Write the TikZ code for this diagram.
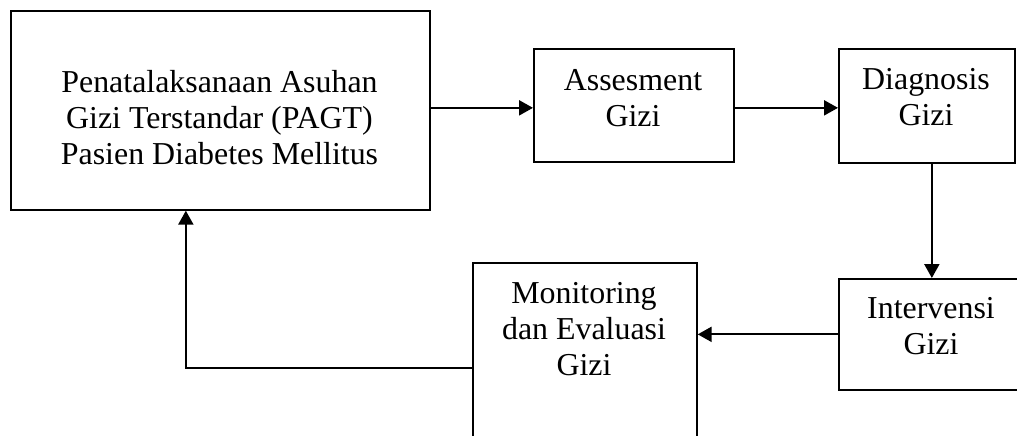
\documentclass[tikz,border=0pt]{standalone}
\usepackage{fontspec}
\setmainfont{Liberation Serif}
\usetikzlibrary{arrows.meta}

\tikzset{
  boxnode/.style={draw=black, line width=1.7pt, rectangle, inner sep=0pt, anchor=north west},
  lbl/.style={inner sep=0pt, align=center, anchor=base,
    font=\fontsize{31.9pt}{36pt}\selectfont},
  arr/.style={draw=black, line width=2.2pt,
    -{Triangle[length=14pt, width=15pt]}},
}

\begin{document}
\begin{tikzpicture}[x=1pt, y=-1pt]
\useasboundingbox (0,0) rectangle (1017,436);

% boxes
\node[boxnode, minimum width=419pt, minimum height=199pt] (b1) at (10,10) {};
\node[boxnode, minimum width=200pt, minimum height=113pt] (b2) at (533,48) {};
\node[boxnode, minimum width=176pt, minimum height=114pt] (b3) at (838,48) {};
\node[boxnode, minimum width=186pt, minimum height=111pt] (b4) at (838,278) {};
\node[boxnode, minimum width=224pt, minimum height=211pt] (b5) at (472,262) {};

% labels (anchored at the baseline of their last line)
\node[lbl] (t1) at (219.5,164) {Penatalaksanaan Asuhan\\Gizi Terstandar (PAGT)\\Pasien Diabetes Mellitus};
\node[lbl] (t2) at (633,126) {Assesment\\Gizi};
\node[lbl] (t3) at (926,125.5) {Diagnosis\\Gizi};
\node[lbl] (t4) at (931,354) {Intervensi\\Gizi};
\node[lbl] (t5) at (584,375) {Monitoring\\dan Evaluasi\\Gizi};

% connectors
\draw[arr] ([yshift=2.5pt]b1.east) coordinate (a1) -- (a1 -| b2.west);
\draw[arr] (a1 -| b2.east) -- (a1 -| b3.west);
\draw[arr] (b4.north |- b3.south) -- (b4.north);
\draw[arr] (b4.west) -- (b4.west -| b5.east);
\draw[arr] (b5.west) -| ([xshift=-34.5pt]b1.south);
\end{tikzpicture}
\end{document}
